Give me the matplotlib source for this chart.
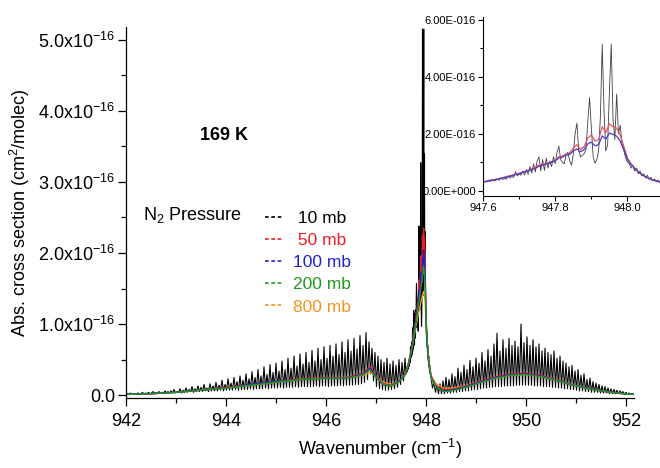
import numpy as np
import matplotlib
matplotlib.use("Agg")
from matplotlib import pyplot as plt
from matplotlib.lines import Line2D
from matplotlib.ticker import MultipleLocator, FuncFormatter

plt.rcParams['font.family'] = ['Liberation Sans', 'DejaVu Sans']
plt.rcParams['mathtext.default'] = 'regular'

# all cross sections in units of 1e-16 cm^2/molec

# black (10 mb) spectrum, left wing 942.00 .. 947.58 every 0.03
black_left = [
    0.01, 0.02, 0.01, 0.03, 0.01, 0.02, 0.01, 0.02, 0.03, 0.01,
    0.02, 0.04, 0.01, 0.03, 0.02, 0.04, 0.02, 0.03, 0.05, 0.02,
    0.04, 0.02, 0.05, 0.03, 0.04, 0.02, 0.06, 0.03, 0.05, 0.03,
    0.06, 0.03, 0.08, 0.03, 0.05, 0.04, 0.09, 0.03, 0.07, 0.04,
    0.10, 0.04, 0.08, 0.05, 0.12, 0.04, 0.09, 0.05, 0.13, 0.05,
    0.11, 0.05, 0.15, 0.06, 0.10, 0.05, 0.16, 0.06, 0.13, 0.06,
    0.18, 0.06, 0.14, 0.07, 0.21, 0.06, 0.15, 0.07, 0.23, 0.07,
    0.17, 0.07, 0.25, 0.08, 0.19, 0.07, 0.27, 0.08, 0.21, 0.08,
    0.30, 0.08, 0.23, 0.09, 0.33, 0.08, 0.25, 0.09, 0.36, 0.09,
    0.27, 0.09, 0.40, 0.10, 0.29, 0.09, 0.43, 0.10, 0.32, 0.10,
    0.45, 0.10, 0.34, 0.11, 0.48, 0.10, 0.36, 0.11, 0.52, 0.11,
    0.38, 0.11, 0.55, 0.12, 0.41, 0.11, 0.58, 0.12, 0.44, 0.12,
    0.60, 0.12, 0.46, 0.12, 0.63, 0.12, 0.48, 0.13, 0.66, 0.12,
    0.50, 0.13, 0.68, 0.13, 0.52, 0.12, 0.70, 0.13, 0.55, 0.13,
    0.72, 0.13, 0.57, 0.14, 0.75, 0.13, 0.60, 0.14, 0.78, 0.14,
    0.62, 0.14, 0.80, 0.15, 0.65, 0.15, 0.84, 0.16, 0.70, 0.18,
    0.88, 0.22, 0.75, 0.30, 0.66, 0.20, 0.60, 0.12, 0.55, 0.09,
    0.50, 0.08, 0.46, 0.07, 0.52, 0.07, 0.44, 0.08, 0.48, 0.09,
    0.42, 0.11, 0.50, 0.15, 0.46, 0.20, 0.52,
]
# band centre 947.600 .. 948.090 every 0.005 (also the inset)
black_centre = [
    0.30, 0.34, 0.31, 0.38, 0.33, 0.40, 0.35, 0.36, 0.42, 0.37,
    0.45, 0.40, 0.44, 0.41, 0.52, 0.45, 0.50, 0.47, 0.68, 0.52,
    0.60, 0.55, 0.70, 0.56, 0.75, 0.58, 0.85, 0.62, 0.95, 0.66,
    1.05, 1.19, 0.70, 1.10, 0.72, 1.15, 0.80, 1.05, 0.85, 1.20,
    0.95, 1.35, 1.57, 1.10, 1.00, 0.95, 1.25, 1.36, 1.05, 0.90,
    1.30, 2.00, 2.38, 1.40, 1.19, 1.25, 1.30, 1.45, 2.40, 3.27,
    2.20, 1.20, 0.97, 1.10, 1.40, 2.60, 5.15, 2.80, 1.40, 1.60,
    3.50, 5.15, 2.50, 1.80, 3.40, 2.00, 2.30, 1.60, 1.40, 1.15,
    1.00, 0.95, 0.80, 0.90, 0.70, 0.80, 0.60, 0.70, 0.52, 0.60,
    0.45, 0.55, 0.40, 0.48, 0.35, 0.42, 0.31, 0.38, 0.28,
]
# right wing 948.10 .. 952.15 every 0.03
black_right = [
    0.26, 0.10, 0.18, 0.04, 0.14, 0.02, 0.16, 0.02, 0.20, 0.02,
    0.25, 0.03, 0.22, 0.03, 0.30, 0.04, 0.26, 0.04, 0.38, 0.05,
    0.32, 0.05, 0.42, 0.06, 0.36, 0.06, 0.49, 0.07, 0.40, 0.08,
    0.52, 0.08, 0.45, 0.09, 0.60, 0.10, 0.48, 0.10, 0.64, 0.11,
    0.55, 0.11, 0.72, 0.12, 0.87, 0.12, 0.62, 0.12, 0.78, 0.13,
    0.66, 0.13, 0.80, 0.13, 0.70, 0.13, 0.76, 0.14, 0.68, 0.14,
    1.00, 0.14, 0.74, 0.14, 0.82, 0.14, 0.70, 0.14, 0.78, 0.13,
    0.68, 0.13, 0.72, 0.13, 0.62, 0.12, 0.66, 0.12, 0.60, 0.12,
    0.57, 0.11, 0.62, 0.11, 0.52, 0.10, 0.55, 0.10, 0.48, 0.09,
    0.45, 0.09, 0.40, 0.08, 0.42, 0.08, 0.34, 0.07, 0.36, 0.06,
    0.28, 0.06, 0.30, 0.05, 0.22, 0.05, 0.24, 0.04, 0.19, 0.04,
    0.17, 0.04, 0.15, 0.03, 0.13, 0.03, 0.12, 0.03, 0.10, 0.02,
    0.09, 0.02, 0.08, 0.02, 0.07, 0.02, 0.06, 0.02, 0.05, 0.01,
    0.04, 0.01, 0.03, 0.01, 0.02, 0.01,
]

# smoothed higher pressure spectra
knots_left = [942.0, 942.5, 943.0, 943.5, 944.0, 944.5, 945.0, 945.5, 946.0,
              946.4, 946.6, 946.75, 946.88, 947.0, 947.15, 947.3, 947.45, 947.55]
knots_peak = [947.6, 947.7, 947.78, 947.84, 947.88, 947.92, 947.95, 947.98,
              948.01, 948.05]
knots_right = [948.1, 948.2, 948.35, 948.5, 948.8, 949.1, 949.4, 949.7, 950.0,
               950.3, 950.6, 950.9, 951.2, 951.5, 951.8, 952.15]

red_left = [0.01, 0.02, 0.04, 0.07, 0.11, 0.15, 0.19, 0.23, 0.25, 0.25, 0.28,
            0.31, 0.40, 0.27, 0.16, 0.14, 0.19, 0.26]
blue_left = [0.01, 0.02, 0.04, 0.07, 0.10, 0.15, 0.19, 0.22, 0.24, 0.24, 0.27,
             0.30, 0.38, 0.26, 0.15, 0.13, 0.19, 0.26]
green_left = [0.01, 0.02, 0.04, 0.07, 0.10, 0.14, 0.18, 0.22, 0.24, 0.24, 0.26,
              0.29, 0.36, 0.25, 0.15, 0.13, 0.18, 0.25]
orange_left = [0.01, 0.02, 0.04, 0.07, 0.10, 0.14, 0.18, 0.22, 0.24, 0.25, 0.26,
               0.28, 0.32, 0.27, 0.18, 0.15, 0.19, 0.26]

# red / blue band centre 947.60 .. 948.09 every 0.01 (also the inset)
red_centre = [0.32, 0.34, 0.37, 0.39, 0.42, 0.45, 0.48, 0.52, 0.55, 0.58,
              0.62, 0.66, 0.70, 0.75, 0.80, 0.88, 0.92, 0.95, 0.98, 1.02,
              1.08, 1.20, 1.22, 1.30, 1.32, 1.50, 1.62, 1.45, 1.55, 1.85,
              1.96, 1.75, 1.80, 2.25, 2.05, 2.35, 2.25, 2.20, 1.95, 1.55,
              1.15, 0.95, 0.80, 0.68, 0.58, 0.50, 0.44, 0.39, 0.35, 0.32]
blue_centre = [0.31, 0.33, 0.36, 0.38, 0.41, 0.44, 0.47, 0.50, 0.53, 0.57,
               0.60, 0.64, 0.68, 0.72, 0.77, 0.83, 0.88, 0.92, 0.96, 1.00,
               1.06, 1.15, 1.18, 1.25, 1.28, 1.40, 1.47, 1.37, 1.45, 1.65,
               1.71, 1.58, 1.62, 1.93, 1.82, 2.03, 1.98, 1.92, 1.75, 1.45,
               1.10, 0.92, 0.78, 0.66, 0.57, 0.49, 0.43, 0.38, 0.34, 0.31]
green_peak = [0.31, 0.58, 0.92, 1.22, 1.42, 1.62, 1.82, 1.60, 0.90, 0.50]
orange_peak = [0.33, 0.60, 0.90, 1.12, 1.25, 1.38, 1.46, 1.35, 0.85, 0.52]

red_right = [0.26, 0.13, 0.07, 0.08, 0.13, 0.20, 0.26, 0.30, 0.31, 0.28, 0.22,
             0.15, 0.10, 0.06, 0.03, 0.01]
blue_right = [0.25, 0.12, 0.06, 0.07, 0.12, 0.19, 0.25, 0.29, 0.30, 0.27, 0.21,
              0.15, 0.10, 0.06, 0.03, 0.01]
green_right = [0.24, 0.11, 0.05, 0.06, 0.11, 0.18, 0.24, 0.28, 0.29, 0.26, 0.21,
               0.15, 0.10, 0.06, 0.03, 0.01]
orange_right = [0.28, 0.16, 0.10, 0.10, 0.13, 0.19, 0.24, 0.28, 0.29, 0.26, 0.21,
                0.15, 0.10, 0.06, 0.03, 0.01]

labels = [' 10 mb', ' 50 mb', '100 mb', '200 mb', '800 mb']
colors = ['black', '#ee1c25', '#2020d0', '#1e9a1e', '#f7941d']

# wavenumber grids of the measured spectra
wn_left = np.linspace(942.0, 947.58, len(black_left))
wn_centre = np.linspace(947.6, 948.09, len(black_centre))
wn_right = np.linspace(948.1, 952.15, len(black_right))
wn_centre2 = np.linspace(947.6, 948.09, len(red_centre))

wn_black = np.concatenate([wn_left, wn_centre, wn_right])
y_black = np.array(black_left + black_centre + black_right)
wn_rb = np.concatenate([knots_left, wn_centre2, knots_right])
y_red = np.array(red_left + red_centre + red_right)
y_blue = np.array(blue_left + blue_centre + blue_right)
wn_go = np.array(knots_left + knots_peak + knots_right)
y_green = np.array(green_left + green_peak + green_right)
y_orange = np.array(orange_left + orange_peak + orange_right)

fig = plt.figure(figsize=(6.6, 4.68), dpi=100)
ax = fig.add_axes([0.1909, 0.1496, 0.7697, 0.7927])

ax.plot(wn_black, y_black, color=colors[0], lw=0.8)
ax.plot(wn_go, y_orange, color=colors[4], lw=1.0)
ax.plot(wn_rb, y_red, color=colors[1], lw=1.0)
ax.plot(wn_rb, y_blue, color=colors[2], lw=1.0)
ax.plot(wn_go, y_green, color=colors[3], lw=1.0)

ax.set_xlim(942, 952.16)
ax.set_ylim(-0.04, 5.18)
for s in ['top', 'right']:
    ax.spines[s].set_visible(False)
for s in ['left', 'bottom']:
    ax.spines[s].set_linewidth(0.9)
ax.xaxis.set_major_locator(MultipleLocator(2))
ax.xaxis.set_minor_locator(MultipleLocator(1))
ax.yaxis.set_major_locator(MultipleLocator(1))
ax.yaxis.set_minor_locator(MultipleLocator(0.5))
ax.yaxis.set_major_formatter(FuncFormatter(
    lambda v, p: '0.0' if abs(v) < 1e-9 else '%.1fx10$^{-16}$' % v))
ax.tick_params(which='major', direction='out', length=6, width=0.9, labelsize=13, pad=2)
ax.tick_params(which='minor', direction='out', length=3.5, width=0.9)
ax.tick_params(axis='x', which='major', pad=5)
ax.set_xlabel('Wavenumber (cm$^{-1}$)', fontsize=13, labelpad=5)
ax.set_ylabel('Abs. cross section (cm$^{2}$/molec)', fontsize=13, labelpad=4)

fig.text(224 / 660, 1 - 135 / 468, '169 K', fontsize=13, fontweight='bold',
         ha='center', va='center')
fig.text(143 / 660, 1 - 215 / 468, 'N$_2$ Pressure', fontsize=13,
         ha='left', va='center')

handles = [Line2D([], [], color=c, lw=1.2, ls=(0, (2.2, 1.6))) for c in colors]
leg = fig.legend(handles, labels, loc='upper left',
                 bbox_to_anchor=(265 / 660, 1 - 211 / 468), frameon=False,
                 fontsize=12.5, handlelength=1.0, handletextpad=0.6,
                 labelspacing=0.4, borderpad=0, borderaxespad=0)
for t, c in zip(leg.get_texts(), colors):
    t.set_color(c)

# inset: zoom on the Q branch
ins = fig.add_axes([0.7318, 0.5812, 0.2682, 0.3825])
ins.plot(wn_centre, black_centre, color='#404040', lw=0.6)
ins.plot(wn_centre2, red_centre, color='#e8505a', lw=0.9)
ins.plot(wn_centre2, blue_centre, color='#4a3cc8', lw=0.9)
ins.set_xlim(947.6, 948.09)
ins.set_ylim(-0.18, 6.1)
for s in ['top', 'right']:
    ins.spines[s].set_visible(False)
for s in ['left', 'bottom']:
    ins.spines[s].set_linewidth(0.8)
ins.xaxis.set_major_locator(MultipleLocator(0.2))
ins.xaxis.set_minor_locator(MultipleLocator(0.1))
ins.yaxis.set_major_locator(MultipleLocator(2))
ins.yaxis.set_minor_locator(MultipleLocator(1))
ins.xaxis.set_major_formatter(FuncFormatter(lambda v, p: '%.1f' % v))
ins.yaxis.set_major_formatter(FuncFormatter(
    lambda v, p: '0.00E+000' if abs(v) < 1e-9 else '%.2fE-016' % v))
ins.tick_params(which='major', direction='out', length=3.5, width=0.8, labelsize=8, pad=1.5)
ins.tick_params(which='minor', direction='out', length=2, width=0.8)

fig.savefig('out.png', dpi=100)
